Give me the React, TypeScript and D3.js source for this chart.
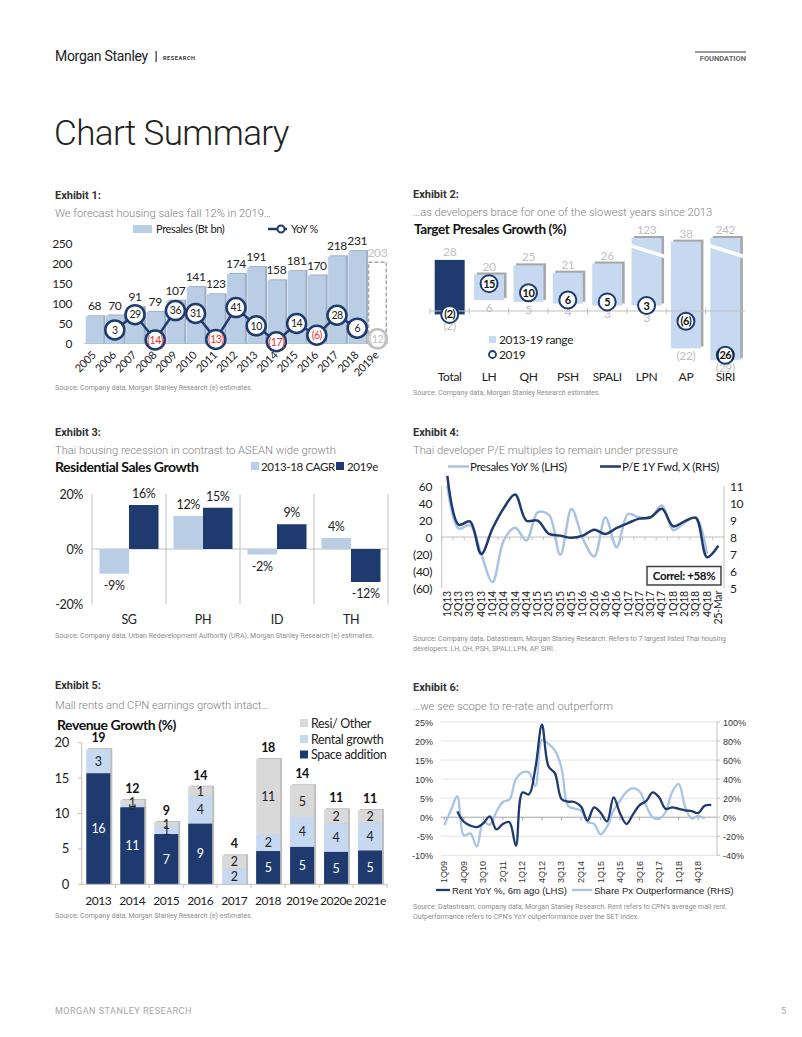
import React from 'react';
import * as d3 from 'd3';

const CAL = "Lato, 'Open Sans', sans-serif";
const ROB = "Roboto, 'Open Sans', sans-serif";
const ARI = "'Liberation Sans', Arial, sans-serif";
const NAVY = '#1f3a6e';
const LIGHT = '#b9cde5';
const PALE = '#c6d9f1';
const GREYBAR = '#d9d9d9';
const LINELIGHT = '#a9c3e3';
const LS = -0.35;

// ---------- Exhibit 1 ----------
const ex1Years = ['2005','2006','2007','2008','2009','2010','2011','2012','2013','2014','2015','2016','2017','2018','2019e'];
const ex1Presales = [68,70,91,79,107,141,123,174,191,158,181,170,218,231,203];
const ex1Yoy: (number | null)[] = [null,3,29,-14,36,31,-13,41,10,-17,14,-6,28,6,-12];
const ex1Ticks = [0,50,100,150,200,250];

// ---------- Exhibit 2 ----------
const ex2Companies = ['Total','LH','QH','PSH','SPALI','LPN','AP','SIRI'];
const ex2High = [28,20,25,21,26,123,38,242];
const ex2Low = [-2,6,5,4,3,3,-22,-29];
const ex2Target = [-2,15,10,6,5,3,-6,-26];

// ---------- Exhibit 3 ----------
const ex3Countries = ['SG','PH','ID','TH'];
const ex3Cagr = [-9,12,-2,4];
const ex3Est = [16,15,9,-12];
const ex3Ticks = [-20,0,20];

// ---------- Exhibit 4 ----------
const ex4Quarters = ['1Q13','2Q13','3Q13','4Q13','1Q14','2Q14','3Q14','4Q14','1Q15','2Q15','3Q15','4Q15','1Q16','2Q16','3Q16','4Q16','1Q17','2Q17','3Q17','4Q17','1Q18','2Q18','3Q18','4Q18','25-Mar'];
const ex4Presales = [60,10,14,-20,-53,-4,11,-4,29,26,-21,33,-2,-23,23,-12,27,23,23,37,8,17,23,-20];
const ex4PE = [11.6,8.72,8.92,7.0,8.5,9.7,10.5,8.96,8.96,8.18,8.08,7.95,8.08,8.43,8.18,8.53,8.82,9.08,9.16,9.66,8.63,8.92,9.12,6.81,7.49];
const ex4LeftTicks = [-60,-40,-20,0,20,40,60];
const ex4RightTicks = [5,6,7,8,9,10,11];

// ---------- Exhibit 5 ----------
const ex5Years = ['2013','2014','2015','2016','2017','2018','2019e','2020e','2021e'];
const ex5Space = [15.7,10.9,7.1,8.6,0,4.7,5.3,4.6,4.8];
const ex5Rental = [3.4,0.4,1.1,3.9,2.2,2.3,4.2,4.0,3.9];
const ex5Resi = [0,0.6,0.6,1.3,1.9,10.7,4.5,2.0,1.8];
const ex5Ticks = [0,5,10,15,20];

// ---------- Exhibit 6 ----------
const ex6Labels = ['1Q09','4Q09','3Q10','2Q11','1Q12','4Q12','3Q13','2Q14','1Q15','4Q15','3Q16','2Q17','1Q18','4Q18'];
const ex6Rent: (number | null)[] = [null,null,1.5,-1.2,-2.2,-2.6,-1.6,0.2,-3.2,-1.8,-1.3,-7.5,6.5,6.0,13,24.3,13.4,11.5,4.8,4.1,4.0,2.8,-0.9,2.6,1.2,-1.1,5.2,1.0,-1.8,0.8,3.2,4.2,6.5,5.2,2.2,2.6,2.2,1.8,1.6,1.1,3.0,3.2];
const ex6Outperf = [-8.5,7,22,-19,-17,-31,-5,-8,5.5,16,18.5,40,47,47,33,81,77,70,52,12,9,7,-5,-7,-18,-10,7,17.5,26.5,30.5,27,12,0,-1.5,5.5,26.5,35,10.7,-1.5,1.5,-1.5];
const ex6LeftTicks = [-10,-5,0,5,10,15,20,25];
const ex6RightTicks = [-40,-20,0,20,40,60,80,100];

const paren = (v: number) => (v < 0 ? `(${Math.abs(v)})` : `${v}`);

function Titles({ x, y, n, sub, gap = 18 }: { x: number; y: number; n: number; sub: string; gap?: number }) {
  return (
    <g>
      <text x={x} y={y} fontFamily={ROB} fontWeight={700} fontSize={11} fill="#333">{`Exhibit ${n}:`}</text>
      <text x={x} y={y + gap} fontFamily={ROB} fontWeight={300} fontSize={11.2} fill="#808080">{sub}</text>
    </g>
  );
}

function Source({ x, y, lines }: { x: number; y: number; lines: string[] }) {
  return (
    <g>
      {lines.map((l, i) => (
        <text key={i} x={x} y={y + i * 9.5} fontFamily={ROB} fontSize={7} fill="#8c8c8c">{l}</text>
      ))}
    </g>
  );
}

function Exhibit1() {
  const x = d3.scaleBand<string>().domain(ex1Years).range([84.5, 387.5]);
  const y = d3.scaleLinear().domain([0, 250]).range([343.5, 243.5]);
  const y2 = d3.scaleLinear().domain([-20, 150]).range([343.5, 243.5]);
  const step = x.step();
  const bw = step * 0.88;
  const cx = (d: string) => (x(d) as number) + step / 2;
  const last = ex1Years.length - 1;
  const pts: [number, number][] = [];
  ex1Yoy.forEach((v, i) => {
    if (v !== null && i !== last) pts.push([cx(ex1Years[i]), y2(v)]);
  });
  const path = d3.line()(pts) || '';
  return (
    <g>
      <Titles x={55} y={199} n={1} sub="We forecast housing sales fall 12% in 2019…" gap={17.5} />
      <rect x={133} y={225} width={19} height={8} fill={LIGHT} />
      <text x={156} y={233} fontFamily={CAL} fontSize={11} letterSpacing={LS} fill="#222">Presales (Bt bn)</text>
      <line x1={268} x2={287} y1={229} y2={229} stroke={NAVY} strokeWidth={2.5} />
      <circle cx={281} cy={229} r={3.5} fill="#fff" stroke={NAVY} strokeWidth={2} />
      <text x={291} y={233} fontFamily={CAL} fontSize={11} letterSpacing={LS} fill="#222">YoY %</text>
      {ex1Ticks.map(t => (
        <text key={t} x={72} y={y(t) + 4} textAnchor="end" fontFamily={CAL} fontSize={12} letterSpacing={LS} fill="#222">{t}</text>
      ))}
      <line x1={84.5} x2={388} y1={y(0)} y2={y(0)} stroke="#bfbfbf" />
      {ex1Years.map((d, i) => {
        const x0 = cx(d) - bw / 2;
        const top = y(ex1Presales[i]);
        if (i === last) {
          return (
            <g key={d}>
              <rect x={x0} y={top} width={bw} height={y(0) - top} fill="#fff" stroke="#a6a6a6" strokeWidth={1.5} strokeDasharray="4,2" />
              <text x={cx(d)} y={top - 5} textAnchor="middle" fontFamily={CAL} fontSize={12} letterSpacing={LS} fill="#bfbfbf">{ex1Presales[i]}</text>
            </g>
          );
        }
        return (
          <g key={d}>
            <rect x={x0 + 2} y={top - 1} width={bw} height={y(0) - top + 1} fill="#9fb0c6" />
            <rect x={x0} y={top} width={bw} height={y(0) - top} fill={LIGHT} />
            <text x={cx(d)} y={top - 6} textAnchor="middle" fontFamily={CAL} fontSize={12} letterSpacing={LS} fill="#222">{ex1Presales[i]}</text>
          </g>
        );
      })}
      <path d={path} fill="none" stroke={NAVY} strokeWidth={2.5} />
      {ex1Yoy.map((v, i) => {
        if (v === null) return null;
        const grey = i === last;
        return (
          <g key={i}>
            <circle cx={cx(ex1Years[i])} cy={y2(v)} r={9.5} fill="#fff" stroke={grey ? '#bfbfbf' : NAVY} strokeWidth={2.5} />
            <text x={cx(ex1Years[i])} y={y2(v) + 3.8} textAnchor="middle" fontFamily={CAL} fontSize={10.5} letterSpacing={-0.5}
              fill={grey ? '#bfbfbf' : v < 0 ? '#e8302c' : '#222'}>{paren(v)}</text>
          </g>
        );
      })}
      {ex1Years.map(d => (
        <text key={d} transform={`translate(${cx(d) + 2},${356}) rotate(-45)`} textAnchor="end" fontFamily={CAL} fontSize={11} letterSpacing={LS} fill="#222">{d}</text>
      ))}
      <Source x={55} y={390} lines={['Source: Company data, Morgan Stanley Research (e) estimates.']} />
    </g>
  );
}

function Exhibit2() {
  const x = d3.scaleBand<string>().domain(ex2Companies).range([430, 745]);
  const y = d3.scaleLinear().domain([-30, 0, 40]).range([362, 311, 238]).clamp(true);
  const step = x.step();
  const bw = 30;
  const r = 8.5;
  const cx = (d: string) => (x(d) as number) + step / 2;
  return (
    <g>
      <Titles x={413} y={198} n={2} sub="…as developers brace for one of the slowest years since 2013" gap={18} />
      <text x={414} y={234} fontFamily={CAL} fontWeight={700} fontSize={13.5} letterSpacing={LS} fill="#111">Target Presales Growth (%)</text>
      {ex2Companies.map((d, i) => {
        const x0 = cx(d) - bw / 2;
        const top = y(ex2High[i]);
        const bot = y(ex2Low[i]);
        const capped = ex2High[i] > 40;
        const total = i === 0;
        const cy = y(ex2Target[i]);
        let lowBase = bot + 12;
        if (Math.abs(lowBase - 4 - cy) < 10) lowBase = cy + r + 7.5;
        return (
          <g key={d}>
            {!total && <rect x={x0 + 2.5} y={top - 2} width={bw} height={bot - top} fill="#a6a6a6" />}
            <rect x={x0} y={top} width={bw} height={bot - top} fill={total ? NAVY : PALE} />
            {capped && (
              <line x1={x0 - 3} x2={x0 + bw + 5} y1={top + 7} y2={top + 19} stroke="#fff" strokeWidth={3.5} />
            )}
            <text x={cx(d)} y={top - 4} textAnchor="middle" fontFamily={CAL} fontSize={12} letterSpacing={LS} fill="#bfbfbf">{ex2High[i]}</text>
            <text x={cx(d)} y={lowBase} textAnchor="middle" fontFamily={CAL} fontSize={12} letterSpacing={LS} fill="#bfbfbf">{paren(ex2Low[i])}</text>
          </g>
        );
      })}
      <line x1={430} x2={745} y1={y(0)} y2={y(0)} stroke="#bfbfbf" />
      {ex2Companies.map(d => (
        <line key={d} x1={(x(d) as number)} x2={(x(d) as number)} y1={y(0) - 3} y2={y(0) + 3} stroke="#bfbfbf" />
      ))}
      {ex2Companies.map((d, i) => (
        <g key={d}>
          <circle cx={cx(d)} cy={y(ex2Target[i])} r={r} fill="#fff" stroke={NAVY} strokeWidth={2} />
          <text x={cx(d)} y={y(ex2Target[i]) + 4} textAnchor="middle" fontFamily={CAL} fontWeight={700} fontSize={11} letterSpacing={-0.5} fill="#111">{paren(ex2Target[i])}</text>
        </g>
      ))}
      <rect x={489} y={336} width={7} height={7} fill={PALE} />
      <text x={499} y={344} fontFamily={CAL} fontSize={12} letterSpacing={LS} fill="#222">2013-19 range</text>
      <circle cx={492.5} cy={354.5} r={3.5} fill="#fff" stroke={NAVY} strokeWidth={1.8} />
      <text x={499} y={358.5} fontFamily={CAL} fontSize={12} letterSpacing={LS} fill="#222">2019</text>
      {ex2Companies.map(d => (
        <text key={d} x={cx(d)} y={381} textAnchor="middle" fontFamily={CAL} fontSize={12} letterSpacing={LS} fill="#222">{d}</text>
      ))}
      <Source x={413} y={395} lines={['Source: Company data, Morgan Stanley Research estimates.']} />
    </g>
  );
}

function Exhibit3() {
  const x = d3.scaleBand<string>().domain(ex3Countries).range([92, 388]);
  const y = d3.scaleLinear().domain([-20, 20]).range([604, 494]);
  const step = x.step();
  const bw = 29.5;
  const cx = (d: string) => (x(d) as number) + step / 2;
  const bar = (v: number, x0: number, fill: string, key: string) => {
    const top = y(Math.max(0, v));
    const bot = y(Math.min(0, v));
    return (
      <g key={key}>
        <rect x={x0} y={top} width={bw} height={bot - top} fill={fill} />
        <text x={x0 + bw / 2} y={v >= 0 ? top - 7 : bot + 16} textAnchor="middle" fontFamily={CAL} fontSize={12.5} letterSpacing={LS} fill="#222">{`${v}%`}</text>
      </g>
    );
  };
  return (
    <g>
      <Titles x={55} y={436} n={3} sub="Thai housing recession in contrast to ASEAN wide growth" gap={17.5} />
      <text x={55} y={472} fontFamily={CAL} fontWeight={700} fontSize={14} letterSpacing={-0.45} fill="#111">Residential Sales Growth</text>
      <rect x={251} y={462} width={8} height={8} fill={LIGHT} />
      <text x={261} y={470.5} fontFamily={CAL} fontSize={11.5} letterSpacing={LS} fill="#222">2013-18 CAGR</text>
      <rect x={336} y={462} width={8} height={8} fill={NAVY} />
      <text x={347} y={470.5} fontFamily={CAL} fontSize={11.5} letterSpacing={LS} fill="#222">2019e</text>
      {ex3Ticks.map(t => (
        <text key={t} x={83} y={y(t) + 4.5} textAnchor="end" fontFamily={CAL} fontSize={12.5} letterSpacing={LS} fill="#222">{`${t}%`}</text>
      ))}
      <line x1={92} x2={92} y1={494} y2={604} stroke="#bfbfbf" />
      {ex3Countries.map(d => (
        <line key={d} x1={(x(d) as number) + step} x2={(x(d) as number) + step} y1={494} y2={604} stroke="#bfbfbf" />
      ))}
      <line x1={92} x2={388} y1={y(0)} y2={y(0)} stroke="#bfbfbf" />
      {ex3Countries.map((d, i) => (
        <g key={d}>
          {bar(ex3Cagr[i], cx(d) - bw, LIGHT, 'a')}
          {bar(ex3Est[i], cx(d), NAVY, 'b')}
          <text x={cx(d)} y={624} textAnchor="middle" fontFamily={CAL} fontSize={12.5} letterSpacing={LS} fill="#222">{d}</text>
        </g>
      ))}
      <Source x={55} y={638} lines={['Source: Company data, Urban Redevelopment Authority (URA), Morgan Stanley Research (e) estimates.']} />
    </g>
  );
}

function Exhibit4() {
  const x = d3.scalePoint<string>().domain(ex4Quarters).range([441.7, 724]).padding(0.5);
  const yl = d3.scaleLinear().domain([-60, 60]).range([588, 486]);
  const yr = d3.scaleLinear().domain([5, 11]).range([588, 486]);
  const step = x.step();
  const curve = d3.curveCatmullRom.alpha(0.5);
  const lightPath = d3.line<number>().x((_, i) => x(ex4Quarters[i]) as number).y(v => yl(v)).curve(curve)(ex4Presales) || '';
  const darkPath = d3.line<number>().x((_, i) => x(ex4Quarters[i]) as number).y(v => yr(v)).curve(curve)(ex4PE) || '';
  return (
    <g>
      <Titles x={413} y={436} n={4} sub="Thai developer P/E multiples to remain under pressure" gap={17.5} />
      <line x1={448} x2={469} y1={466.5} y2={466.5} stroke={LINELIGHT} strokeWidth={2.5} />
      <text x={470} y={470.5} fontFamily={CAL} fontSize={11.5} letterSpacing={LS} fill="#222">Presales YoY % (LHS)</text>
      <line x1={600} x2={621} y1={466.5} y2={466.5} stroke={NAVY} strokeWidth={2.5} />
      <text x={622} y={470.5} fontFamily={CAL} fontSize={11.5} letterSpacing={LS} fill="#222">P/E 1Y Fwd, X (RHS)</text>
      {ex4LeftTicks.map(t => (
        <text key={t} x={432} y={yl(t) + 4.5} textAnchor="end" fontFamily={CAL} fontSize={12} letterSpacing={LS} fill="#222">{paren(t)}</text>
      ))}
      {ex4RightTicks.map(t => (
        <text key={t} x={730} y={yr(t) + 4.5} fontFamily={CAL} fontSize={12} letterSpacing={LS} fill="#222">{t}</text>
      ))}
      <line x1={441.7} x2={441.7} y1={486} y2={588} stroke="#bfbfbf" />
      <line x1={724} x2={724} y1={486} y2={588} stroke="#bfbfbf" />
      <line x1={441.7} x2={724} y1={yl(0)} y2={yl(0)} stroke="#bfbfbf" />
      {ex4Quarters.map(q => (
        <line key={q} x1={(x(q) as number) - step / 2} x2={(x(q) as number) - step / 2} y1={yl(0)} y2={yl(0) + 3} stroke="#bfbfbf" />
      ))}
      <path d={lightPath} fill="none" stroke={LINELIGHT} strokeWidth={2.5} />
      <path d={darkPath} fill="none" stroke={NAVY} strokeWidth={2.5} />
      <rect x={647} y={566.5} width={74} height={18.5} fill="#fff" stroke="#404040" strokeWidth={1.5} />
      <text x={684} y={580} textAnchor="middle" fontFamily={CAL} fontWeight={700} fontSize={11.5} letterSpacing={LS} fill="#111">Correl: +58%</text>
      {ex4Quarters.map(q => (
        <text key={q} transform={`translate(${(x(q) as number) + 3.5},591) rotate(-90)`} textAnchor="end" fontFamily={CAL} fontSize={10.5} letterSpacing={-0.2} fill="#222">{q}</text>
      ))}
      <Source x={413} y={641} lines={['Source: Company data, Datastream, Morgan Stanley Research. Refers to 7 largest listed Thai housing', 'developers: LH, QH, PSH, SPALI, LPN, AP, SIRI.']} />
    </g>
  );
}

function Exhibit5() {
  const x = d3.scaleBand<string>().domain(ex5Years).range([81.3, 387]);
  const y = d3.scaleLinear().domain([0, 20]).range([884.3, 742.7]);
  const step = x.step();
  const bw = 24;
  const cx = (d: string) => (x(d) as number) + step / 2;
  const rows = ex5Years.map((d, i) => ({ year: d, space: ex5Space[i], rental: ex5Rental[i], resi: ex5Resi[i] }));
  const keys = ['space', 'rental', 'resi'];
  const stack = d3.stack<any>().keys(keys)(rows);
  const fills: Record<string, string> = { space: NAVY, rental: PALE, resi: GREYBAR };
  const legend = [
    { k: 'resi', label: 'Resi/ Other', yy: 723 },
    { k: 'rental', label: 'Rental growth', yy: 739 },
    { k: 'space', label: 'Space addition', yy: 754.5 },
  ];
  return (
    <g>
      <Titles x={55} y={689} n={5} sub="Mall rents and CPN earnings growth intact…" gap={20} />
      <text x={57} y={730} fontFamily={CAL} fontWeight={700} fontSize={14} letterSpacing={-0.45} fill="#111">Revenue Growth (%)</text>
      {legend.map(l => (
        <g key={l.k}>
          <rect x={300} y={l.yy - 4} width={8} height={8} fill={fills[l.k]} />
          <text x={311} y={l.yy + 4.5} fontFamily={CAL} fontSize={12.5} letterSpacing={LS} fill="#222">{l.label}</text>
        </g>
      ))}
      {ex5Ticks.map(t => (
        <g key={t}>
          <text x={69} y={y(t) + 4.5} textAnchor="end" fontFamily={CAL} fontSize={13} letterSpacing={LS} fill="#222">{t}</text>
          <line x1={78} x2={81.7} y1={y(t)} y2={y(t)} stroke="#bfbfbf" />
        </g>
      ))}
      <line x1={81.7} x2={81.7} y1={742.7} y2={884.3} stroke="#bfbfbf" />
      {rows.map(r => {
        const total = r.space + r.rental + r.resi;
        const top = y(total);
        return (
          <rect key={r.year} x={cx(r.year) - bw / 2 + 2} y={top - 1} width={bw} height={y(0) - top + 1} fill="#bfbfbf" />
        );
      })}
      {stack.map(s => (
        <g key={s.key}>
          {s.map((seg, i) => {
            const v = seg[1] - seg[0];
            if (v <= 0) return null;
            const d = ex5Years[i];
            const yt = y(seg[1]);
            const yb = y(seg[0]);
            return (
              <g key={d}>
                <rect x={cx(d) - bw / 2} y={yt} width={bw} height={yb - yt} fill={fills[s.key]} />
                <text x={cx(d)} y={(yt + yb) / 2 + 4.5} textAnchor="middle" fontFamily={CAL} fontSize={12.5} letterSpacing={LS}
                  fill={s.key === 'space' ? '#fff' : '#222'}>{Math.round(v)}</text>
              </g>
            );
          })}
        </g>
      ))}
      {rows.map(r => {
        const total = r.space + r.rental + r.resi;
        return (
          <text key={r.year} x={cx(r.year)} y={y(total) - 7} textAnchor="middle" fontFamily={CAL} fontWeight={700} fontSize={12.5} letterSpacing={LS} fill="#111">{Math.round(total)}</text>
        );
      })}
      <line x1={81.7} x2={387} y1={y(0)} y2={y(0)} stroke="#bfbfbf" />
      {ex5Years.map(d => (
        <g key={d}>
          <line x1={(x(d) as number) + step} x2={(x(d) as number) + step} y1={y(0)} y2={y(0) + 4} stroke="#bfbfbf" />
          <text x={cx(d)} y={905} textAnchor="middle" fontFamily={CAL} fontSize={12} letterSpacing={-0.45} fill="#222">{d}</text>
        </g>
      ))}
      <Source x={55} y={918} lines={['Source: Company data, Morgan Stanley Research (e) estimates.']} />
    </g>
  );
}

function Exhibit6() {
  const x = d3.scaleLinear().domain([0, 39]).range([444.3, 698.2]);
  const yl = d3.scaleLinear().domain([-10, 25]).range([855.3, 722]);
  const yr = d3.scaleLinear().domain([-40, 100]).range([855.3, 722]);
  const curve = d3.curveCatmullRom.alpha(0.5);
  const rentPath = d3.line<number | null>().defined(v => v !== null).x((_, i) => x(i)).y(v => yl(v as number)).curve(curve)(ex6Rent) || '';
  const outPath = d3.line<number>().x((_, i) => x(i)).y(v => yr(v)).curve(curve)(ex6Outperf) || '';
  return (
    <g>
      <Titles x={413} y={691} n={6} sub="…we see scope to re-rate and outperform" gap={18.5} />
      {ex6LeftTicks.map(t => (
        <g key={t}>
          <line x1={441} x2={717} y1={yl(t)} y2={yl(t)} stroke={t === 0 ? '#a6a6a6' : '#e3e3e3'} />
          <text x={433} y={yl(t) + 3.5} textAnchor="end" fontFamily={ARI} fontSize={9} fill="#333">{`${t}%`}</text>
        </g>
      ))}
      {ex6RightTicks.map(t => (
        <g key={t}>
          <line x1={717} x2={720} y1={yr(t)} y2={yr(t)} stroke="#bfbfbf" />
          <text x={723} y={yr(t) + 3.5} fontFamily={ARI} fontSize={9} fill="#333">{`${t}%`}</text>
        </g>
      ))}
      <line x1={717} x2={717} y1={722} y2={855.3} stroke="#bfbfbf" />
      {ex6Labels.map((l, i) => (
        <g key={l}>
          <line x1={x(i * 3)} x2={x(i * 3)} y1={yl(0)} y2={yl(0) + 3} stroke="#a6a6a6" />
          <text transform={`translate(${x(i * 3) + 3},861) rotate(-90)`} textAnchor="end" fontFamily={ARI} fontSize={9} fill="#333">{l}</text>
        </g>
      ))}
      <path d={outPath} fill="none" stroke={LINELIGHT} strokeWidth={2.3} />
      <path d={rentPath} fill="none" stroke={NAVY} strokeWidth={2.3} />
      <line x1={436} x2={450} y1={890} y2={890} stroke={NAVY} strokeWidth={2.3} />
      <text x={452} y={893.5} fontFamily={ARI} fontSize={9.5} fill="#222">Rent YoY %, 6m ago (LHS)</text>
      <line x1={572} x2={592} y1={890} y2={890} stroke={LINELIGHT} strokeWidth={2.3} />
      <text x={594} y={893.5} fontFamily={ARI} fontSize={9.5} fill="#222">Share Px Outperformance (RHS)</text>
      <Source x={413} y={909} lines={["Source: Datastream, company data, Morgan Stanley Research. Rent refers to CPN's average mall rent.", "Outperformance refers to CPN's YoY outperformance over the SET Index."]} />
    </g>
  );
}

function Header() {
  return (
    <g>
      <text x={55} y={61} fontFamily={ROB} fontSize={14} fill="#222" letterSpacing={-0.3}>Morgan Stanley</text>
      <rect x={155.5} y={51} width={1.2} height={11} fill="#333" />
      <text x={163} y={59.5} fontFamily={ROB} fontWeight={700} fontSize={5.5} fill="#333" letterSpacing={0.6}>RESEARCH</text>
      <line x1={695} x2={746} y1={52} y2={52} stroke="#777" strokeWidth={1.5} />
      <text x={746} y={61} textAnchor="end" fontFamily={ROB} fontWeight={700} fontSize={7.5} fill="#666">FOUNDATION</text>
      <text x={54} y={145} fontFamily={ROB} fontWeight={300} fontSize={35} letterSpacing={-0.6} fill="#222">Chart Summary</text>
      <text x={55} y={1014} fontFamily={ROB} fontSize={9} fill="#a6a6a6" letterSpacing={0.5}>MORGAN STANLEY RESEARCH</text>
      <text x={786} y={1014} textAnchor="end" fontFamily={ROB} fontSize={9} fill="#a6a6a6">5</text>
    </g>
  );
}

export default function App() {
  return (
    <svg width={802} height={1037} style={{ position: 'absolute', left: 0, top: 0 }}>
      <rect width={802} height={1037} fill="#fff" />
      <Header />
      <Exhibit1 />
      <Exhibit2 />
      <Exhibit3 />
      <Exhibit4 />
      <Exhibit5 />
      <Exhibit6 />
    </svg>
  );
}
